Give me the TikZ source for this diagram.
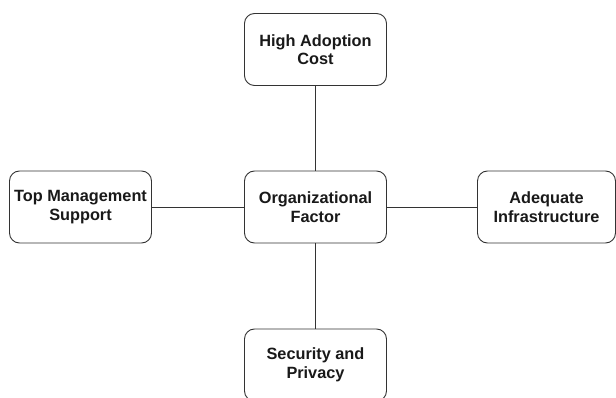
\documentclass[tikz,border=0pt]{standalone}
\usepackage{fontspec}
\setmainfont{Liberation Sans}
\usetikzlibrary{positioning}
\tikzset{
  factor/.style={draw=black!80,line width=0.9pt,rounded corners=10pt,fill=white,
    minimum width=142pt,minimum height=72pt,align=center,
    font=\fontsize{16.3}{18.5}\selectfont\bfseries,text=black!90}
}
\begin{document}
\begin{tikzpicture}[x=1pt,y=-1pt]
		\useasboundingbox (0,0) rectangle (616,398);
		\node[factor](org) at (315.5,207){Organizational\\Factor};
		\node[factor,above of=org,node distance=157.5pt](cost){High Adoption\\Cost};
		\node[factor,left of=org,node distance=235pt](mgmt){Top Management\\Support};
		\node[factor,right of=org,node distance=231pt,minimum width=138pt](infra){Adequate\\Infrastructure};
		\node[factor,below of=org,node distance=158pt](sec){Security and\\Privacy};
		\path[draw=black!80,line width=0.9pt]
		(org) edge (cost)
		(org) edge (mgmt)
		(org) edge (infra)
		(org) edge (sec);
		\end{tikzpicture}
\end{document}
